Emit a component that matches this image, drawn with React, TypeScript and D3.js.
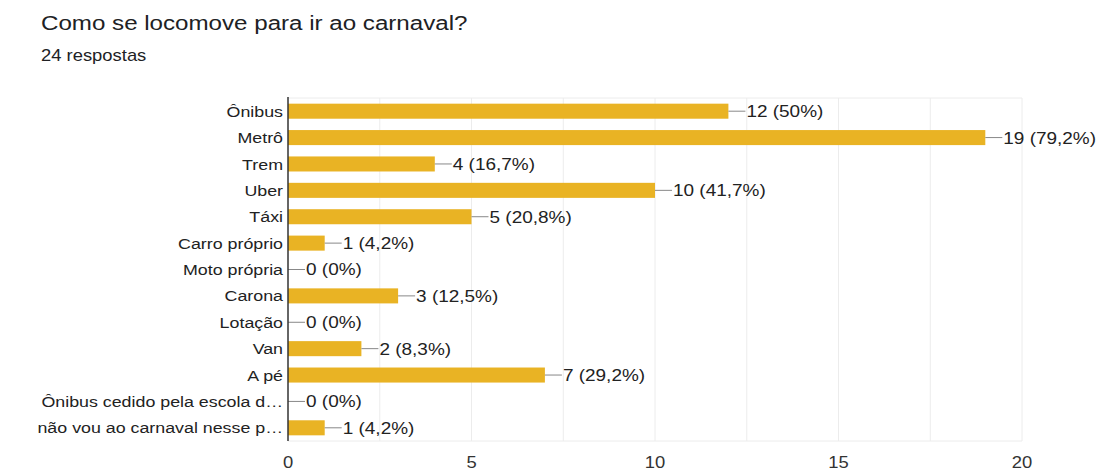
import React, { useEffect, useRef } from "react";
import * as d3 from "d3";

const title = "Como se locomove para ir ao carnaval?";
const subtitle = "24 respostas";
const categories = [
  "Ônibus",
  "Metrô",
  "Trem",
  "Uber",
  "Táxi",
  "Carro próprio",
  "Moto própria",
  "Carona",
  "Lotação",
  "Van",
  "A pé",
  "Ônibus cedido pela escola d…",
  "não vou ao carnaval nesse p…",
];
const counts = [12, 19, 4, 10, 5, 1, 0, 3, 0, 2, 7, 0, 1];
const percents = ["50%", "79,2%", "16,7%", "41,7%", "20,8%", "4,2%", "0%", "12,5%", "0%", "8,3%", "29,2%", "0%", "4,2%"];
const tickValues = [0, 5, 10, 15, 20];
const gridValues = [2.5, 5, 7.5, 10, 12.5, 15, 17.5, 20];

export default function App() {
  const ref = useRef<SVGSVGElement>(null);
  useEffect(() => {
    const svg = d3.select(ref.current);
    svg.selectAll("*").remove();
    const W = 1108, H = 472;
    const left = 288, right = 1022, top = 98, bottom = 441;
    const font = "'Liberation Sans', Arial, sans-serif";
    const sx = 1.15;
    const x = d3.scaleLinear().domain([0, 20]).range([left, right]);
    const y = d3.scaleBand<string>().domain(categories).range([top, bottom]).paddingInner(0.43).paddingOuter(0.215);

    svg.attr("width", W).attr("height", H);
    svg.append("rect").attr("width", W).attr("height", H).attr("fill", "#fff");

    const tr = (tx: number, ty: number) => `translate(${tx},${ty}) scale(${sx},1)`;

    svg.append("text").attr("transform", tr(41, 30)).attr("font-family", font).attr("font-size", 21).attr("fill", "#202124").text(title);
    svg.append("text").attr("transform", tr(41, 61)).attr("font-family", font).attr("font-size", 16).attr("fill", "#202124").text(subtitle);

    // grid
    svg.append("g").selectAll("line").data(gridValues).join("line")
      .attr("x1", d => x(d)).attr("x2", d => x(d)).attr("y1", top).attr("y2", bottom)
      .attr("stroke", "#ececec").attr("stroke-width", 1);
    svg.append("line").attr("x1", left).attr("x2", right).attr("y1", top).attr("y2", top).attr("stroke", "#ececec");
    svg.append("line").attr("x1", left).attr("x2", right).attr("y1", bottom).attr("y2", bottom).attr("stroke", "#ececec");

    // bars
    const idx = d3.range(categories.length);
    svg.append("g").selectAll("rect").data(idx).join("rect")
      .attr("x", x(0)).attr("y", i => y(categories[i])!)
      .attr("width", i => x(counts[i]) - x(0)).attr("height", y.bandwidth())
      .attr("fill", "#e9b324");

    // connector + labels
    const cy = (i: number) => y(categories[i])! + y.bandwidth() / 2;
    const lg = svg.append("g");
    lg.selectAll("line").data(idx).join("line")
      .attr("x1", i => x(counts[i])).attr("x2", i => x(counts[i]) + 17)
      .attr("y1", cy).attr("y2", cy)
      .attr("stroke", "#888").attr("stroke-width", 1);
    lg.selectAll("text").data(idx).join("text")
      .attr("transform", i => tr(x(counts[i]) + 18, cy(i)))
      .attr("dy", "0.36em").attr("font-family", font).attr("font-size", 16.5).attr("fill", "#222")
      .text(i => `${counts[i]} (${percents[i]})`);

    // category labels
    svg.append("g").selectAll("text").data(idx).join("text")
      .attr("transform", i => tr(left - 5, cy(i)))
      .attr("dy", "0.36em").attr("text-anchor", "end").attr("font-family", font).attr("font-size", 15.5).attr("fill", "#222")
      .text(i => categories[i]);

    // axis line
    svg.append("line").attr("x1", left).attr("x2", left).attr("y1", top - 1).attr("y2", bottom).attr("stroke", "#333").attr("stroke-width", 1.5);

    // x tick labels
    svg.append("g").selectAll("text").data(tickValues).join("text")
      .attr("transform", d => tr(x(d), 468)).attr("text-anchor", "middle")
      .attr("font-family", font).attr("font-size", 16).attr("fill", "#333")
      .text(d => String(d));
  }, []);
  return <svg ref={ref} style={{ position: "absolute", left: 0, top: 0, display: "block" }} />;
}
